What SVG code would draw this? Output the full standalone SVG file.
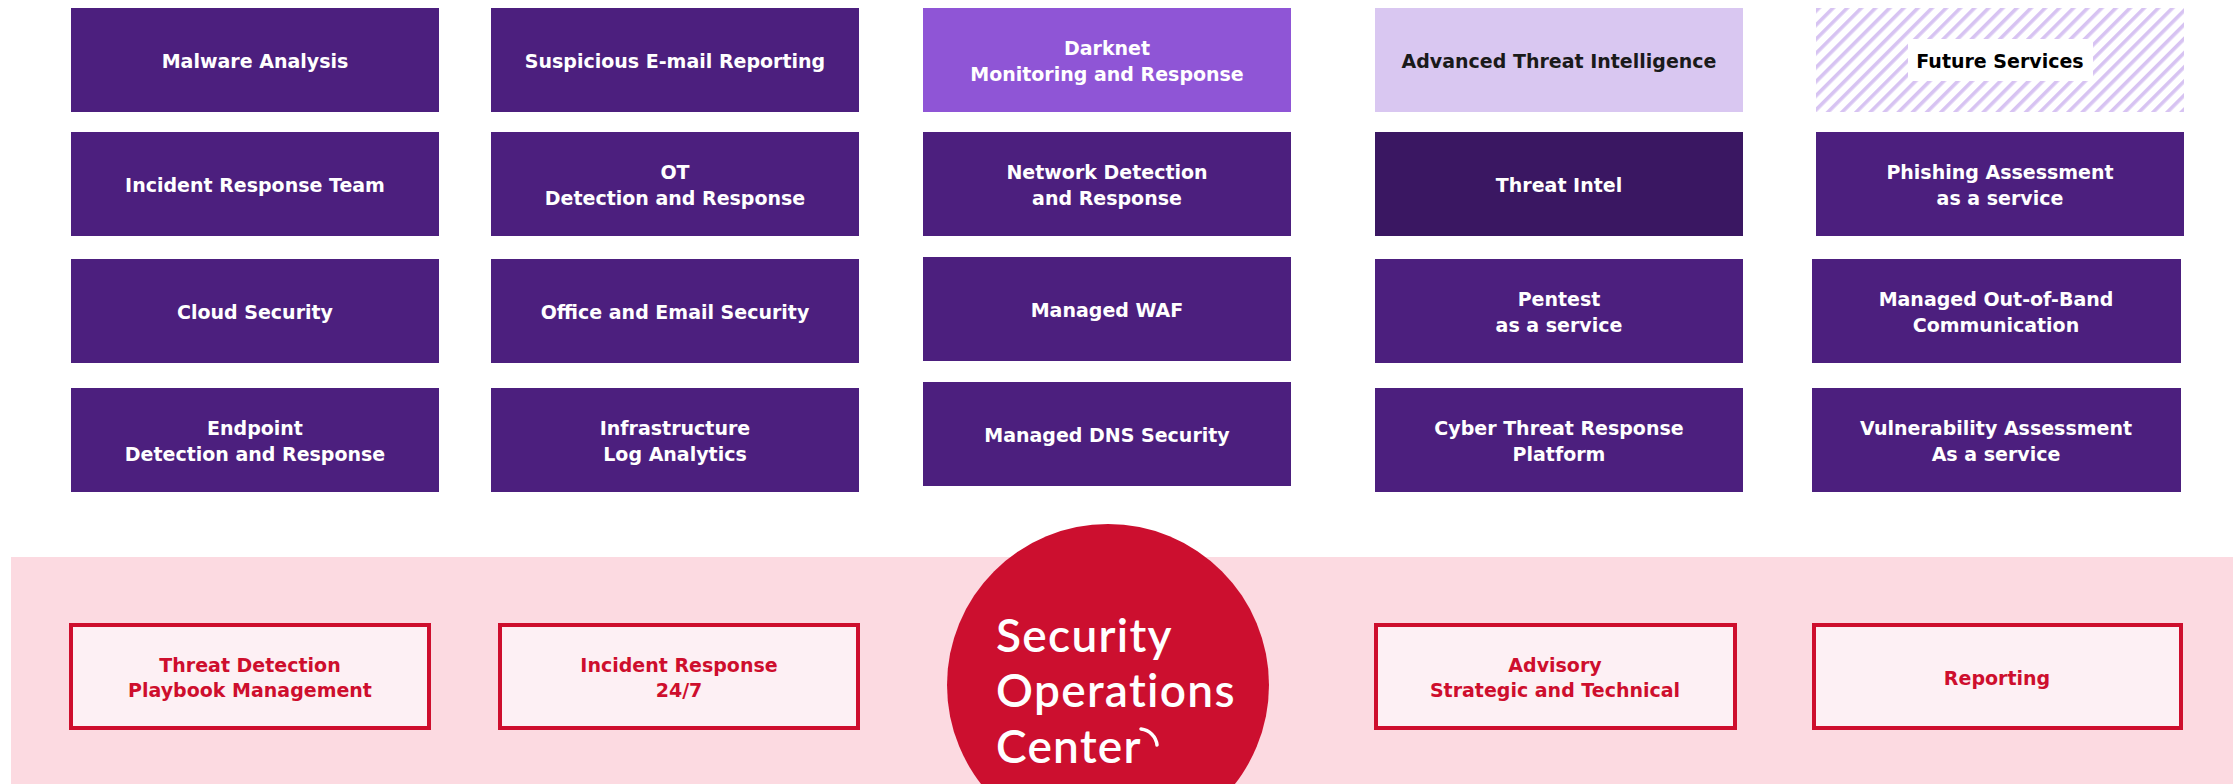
<svg xmlns="http://www.w3.org/2000/svg" width="2239" height="784" viewBox="0 0 2239 784">
<defs>
<pattern id="stripes" patternUnits="userSpaceOnUse" width="10" height="10" patternTransform="rotate(45)">
<rect x="0" y="0" width="10" height="10" fill="#ffffff"/>
<rect x="0" y="0" width="3.6" height="10" fill="#D7C3F2"/>
</pattern>
<style>
.svc{fill:#4C1F7E}
.t{font-family:"DejaVu Sans",Verdana,sans-serif;font-weight:bold;font-size:19px;fill:#ffffff;text-anchor:middle}
.dk{fill:#1a1a1a}
.sub{fill:#FDF0F4;stroke:#CE0E2D;stroke-width:4}
.r{fill:#CE0E2D}
.soc{font-family:Lato,"Noto Sans",sans-serif;font-size:46px;font-weight:600;fill:#ffffff;letter-spacing:1.3px}
</style>
</defs>
<rect width="2239" height="784" fill="#ffffff"/>

<!-- Column 1 -->
<g id="malware-analysis"><rect class="svc" x="71" y="8" width="368" height="104"/><text class="t" x="255" y="68">Malware Analysis</text></g>
<g id="incident-response-team"><rect class="svc" x="71" y="132" width="368" height="104"/><text class="t" x="255" y="192">Incident Response Team</text></g>
<g id="cloud-security"><rect class="svc" x="71" y="259" width="368" height="104"/><text class="t" x="255" y="319">Cloud Security</text></g>
<g id="edr"><rect class="svc" x="71" y="388" width="368" height="104"/><text class="t" x="255" y="435">Endpoint</text><text class="t" x="255" y="461">Detection and Response</text></g>

<!-- Column 2 -->
<g id="suspicious-email"><rect class="svc" x="491" y="8" width="368" height="104"/><text class="t" x="675" y="68">Suspicious E-mail Reporting</text></g>
<g id="ot-dr"><rect class="svc" x="491" y="132" width="368" height="104"/><text class="t" x="675" y="179">OT</text><text class="t" x="675" y="205">Detection and Response</text></g>
<g id="office-email-security"><rect class="svc" x="491" y="259" width="368" height="104"/><text class="t" x="675" y="319">Office and Email Security</text></g>
<g id="infra-log"><rect class="svc" x="491" y="388" width="368" height="104"/><text class="t" x="675" y="435">Infrastructure</text><text class="t" x="675" y="461">Log Analytics</text></g>

<!-- Column 3 -->
<g id="darknet"><rect x="923" y="8" width="368" height="104" fill="#8F55D6"/><text class="t" x="1107" y="55">Darknet</text><text class="t" x="1107" y="81">Monitoring and Response</text></g>
<g id="ndr"><rect class="svc" x="923" y="132" width="368" height="104"/><text class="t" x="1107" y="179">Network Detection</text><text class="t" x="1107" y="205">and Response</text></g>
<g id="managed-waf"><rect class="svc" x="923" y="257" width="368" height="104"/><text class="t" x="1107" y="317">Managed WAF</text></g>
<g id="managed-dns"><rect class="svc" x="923" y="382" width="368" height="104"/><text class="t" x="1107" y="442">Managed DNS Security</text></g>

<!-- Column 4 -->
<g id="advanced-ti"><rect x="1375" y="8" width="368" height="104" fill="#D9C7F1"/><text class="t dk" x="1559" y="68">Advanced Threat Intelligence</text></g>
<g id="threat-intel"><rect x="1375" y="132" width="368" height="104" fill="#3A1762"/><text class="t" x="1559" y="192">Threat Intel</text></g>
<g id="pentest"><rect class="svc" x="1375" y="259" width="368" height="104"/><text class="t" x="1559" y="306">Pentest</text><text class="t" x="1559" y="332">as a service</text></g>
<g id="ctrp"><rect class="svc" x="1375" y="388" width="368" height="104"/><text class="t" x="1559" y="435">Cyber Threat Response</text><text class="t" x="1559" y="461">Platform</text></g>

<!-- Column 5 -->
<g id="future-services"><rect x="1816" y="8" width="368" height="104" fill="url(#stripes)"/><rect x="1908" y="39" width="185" height="42" fill="#ffffff"/><text class="t dk" x="2000" y="68" style="fill:#000000">Future Services</text></g>
<g id="phishing"><rect class="svc" x="1816" y="132" width="368" height="104"/><text class="t" x="2000" y="179">Phishing Assessment</text><text class="t" x="2000" y="205">as a service</text></g>
<g id="oob"><rect class="svc" x="1812" y="259" width="369" height="104"/><text class="t" x="1996" y="306">Managed Out-of-Band</text><text class="t" x="1996" y="332">Communication</text></g>
<g id="vuln"><rect class="svc" x="1812" y="388" width="369" height="104"/><text class="t" x="1996" y="435">Vulnerability Assessment</text><text class="t" x="1996" y="461">As a service</text></g>

<!-- SOC band -->
<rect id="soc-band" x="11" y="557" width="2222" height="227" fill="#FCDAE1"/>

<g id="threat-detection-playbook"><rect class="sub" x="71" y="625" width="358" height="103"/><text class="t r" x="250" y="672">Threat Detection</text><text class="t r" x="250" y="697">Playbook Management</text></g>
<g id="incident-response-247"><rect class="sub" x="500" y="625" width="358" height="103"/><text class="t r" x="679" y="672">Incident Response</text><text class="t r" x="679" y="697">24/7</text></g>
<g id="advisory"><rect class="sub" x="1376" y="625" width="359" height="103"/><text class="t r" x="1555" y="672">Advisory</text><text class="t r" x="1555" y="697">Strategic and Technical</text></g>
<g id="reporting"><rect class="sub" x="1814" y="625" width="367" height="103"/><text class="t r" x="1997" y="685">Reporting</text></g>

<g id="soc-center">
<circle cx="1108" cy="685" r="161" fill="#CC0F2F"/>
<text class="soc" x="996" y="652">Security</text>
<text class="soc" x="996" y="707">Operations</text>
<text class="soc" x="996" y="763">Center</text>
<path d="M1141,729 A18,18 0 0 1 1157,745" fill="none" stroke="#ffffff" stroke-width="3.5" stroke-linecap="round"/>
</g>

<g id="connectors"></g>
</svg>
